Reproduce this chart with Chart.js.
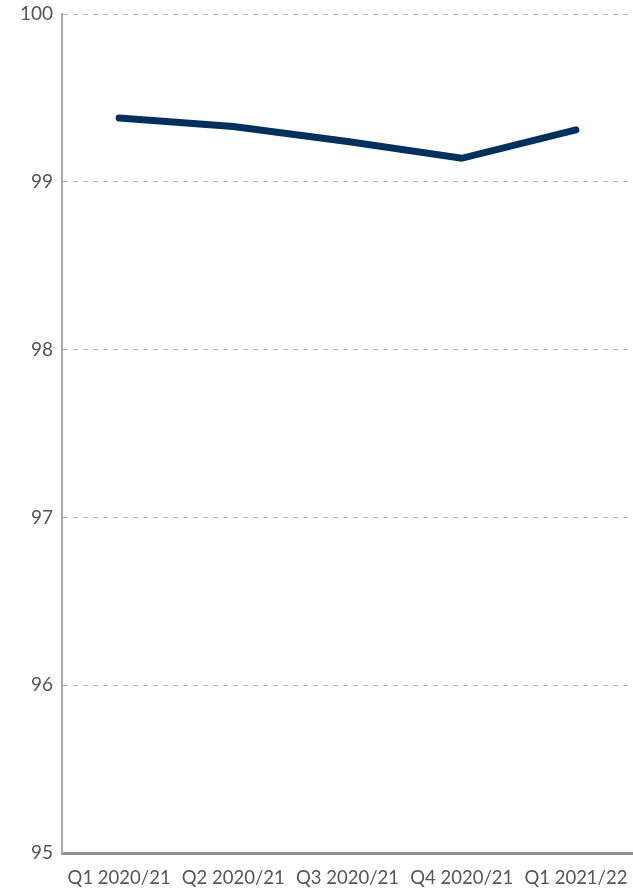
<!DOCTYPE html>
<html>
<head>
<meta charset="utf-8">
<script src="https://cdn.jsdelivr.net/npm/chart.js@4"></script>
<style>
  html, body { margin: 0; padding: 0; background: #fff; }
  #wrap { width: 633px; height: 895px; }
</style>
</head>
<body>
<div id="wrap"><canvas id="chart"></canvas></div>
<script>
var quarters = ['Q1 2020/21', 'Q2 2020/21', 'Q3 2020/21', 'Q4 2020/21', 'Q1 2021/22'];
var scores = [99.38, 99.33, 99.24, 99.14, 99.31];
var yMin = 95;
var yMax = 100;

var ctx = document.getElementById('chart').getContext('2d');
var chart = new Chart(ctx, {
    type: 'line',
    data: {
        labels: quarters,
        datasets: [{
            data: scores,
            borderColor: '#00305f',
            borderWidth: 7,
            borderCapStyle: 'round',
            borderJoinStyle: 'miter',
            pointRadius: 0,
            tension: 0,
            fill: false
        }]
    },
    options: {
        responsive: true,
        maintainAspectRatio: false,
        animation: false,
        layout: { padding: { top: 14, right: 0, bottom: 0, left: 0 } },
        plugins: {
            legend: { display: false },
            tooltip: { enabled: false }
        },
        scales: {
            x: {
                offset: true,
                grid: { display: false, drawTicks: false },
                border: { color: '#8f8f8f', width: 3 },
                ticks: {
                    color: '#555',
                    font: { family: 'Lato', size: 18.5 },
                    padding: 14,
                    maxRotation: 0,
                    autoSkip: false
                },
                afterFit: function (scale) {
                    scale.height = 42;
                    scale.paddingLeft = 0;
                    scale.paddingRight = 0;
                }
            },
            y: {
                min: yMin,
                max: yMax,
                grid: {
                    color: '#b5b5b5',
                    drawTicks: false
                },
                border: { color: '#a8a8a8', width: 2, dash: [5, 5] },
                ticks: {
                    stepSize: 1,
                    color: '#555',
                    font: { family: 'Lato', size: 19 },
                    padding: 9
                },
                afterFit: function (scale) {
                    scale.width = 62;
                    scale.paddingTop = 0;
                    scale.paddingBottom = 0;
                }
            }
        }
    }
});
</script>
</body>
</html>
